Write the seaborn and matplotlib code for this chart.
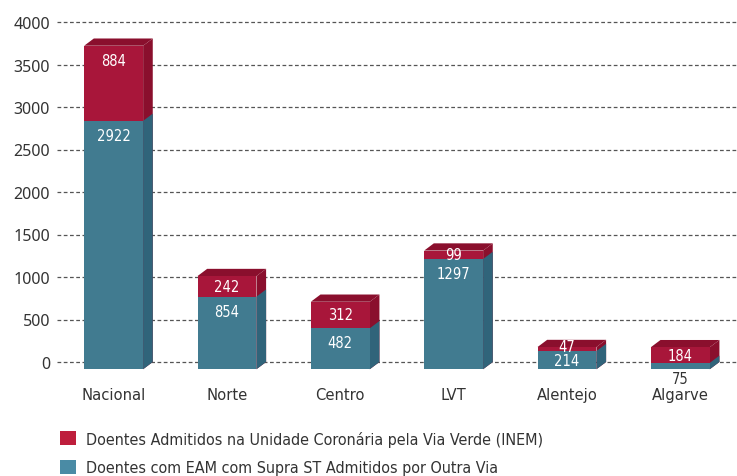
import numpy as np
import pandas as pd
import seaborn as sns
import matplotlib
matplotlib.use("Agg")
import matplotlib.pyplot as plt
from matplotlib.patches import Polygon, Patch
from matplotlib.transforms import Affine2D

# ---- data ----
regioes = ["Nacional", "Norte", "Centro", "LVT", "Alentejo", "Algarve"]
via_verde = [884, 242, 312, 99, 47, 184]
outra_via = [2922, 854, 482, 1297, 214, 75]
y_ticks = [0, 500, 1000, 1500, 2000, 2500, 3000, 3500, 4000]
legenda = ["Doentes Admitidos na Unidade Coronária pela Via Verde (INEM)",
           "Doentes com EAM com Supra ST Admitidos por Outra Via"]

# ---- style ----
RED = "#A8163A"
RED_DARK = "#8A0F2D"
TEAL = "#417B90"
TEAL_DARK = "#30647A"
RED_LEG = "#BE1E3C"
TEAL_LEG = "#4A8BA5"
TXT = "#333333"

sns.set_theme(style="white")
plt.rcParams["font.family"] = ["DejaVu Sans"]
plt.rcParams["font.stretch"] = "condensed"

fig = plt.figure(figsize=(7.37, 4.77), dpi=100)
ax = fig.add_axes([57 / 737, 1 - 363 / 477, 680 / 737, 340 / 477])

df = pd.DataFrame({
    "regiao": regioes,
    "total": np.add(via_verde, outra_via),
    "outra": outra_via,
})

W = 0.52
sns.barplot(data=df, x="regiao", y="total", color=RED, width=W,
            saturation=1, ax=ax, zorder=3)
sns.barplot(data=df, x="regiao", y="outra", color=TEAL, width=W,
            saturation=1, ax=ax, zorder=3)

ax.set_xlim(-0.5, 5.5)
ax.set_ylim(0, 4000)

# 3D depth (in data units)
OX = 0.085
OY = 85
shift = Affine2D().translate(0, -OY) + ax.transData

n = len(regioes)
red_p = ax.patches[:n]
teal_p = ax.patches[n:2 * n]

for group, side_col, top in ((red_p, RED_DARK, True), (teal_p, TEAL_DARK, False)):
    for p in group:
        p.set_transform(shift)
        p.set_clip_on(False)
        p.set_linewidth(0)
        x0 = p.get_x()
        x1 = x0 + p.get_width()
        y0 = p.get_y()
        y1 = y0 + p.get_height()
        side = Polygon([(x1, y0 - OY), (x1 + OX, y0), (x1 + OX, y1), (x1, y1 - OY)],
                       closed=True, facecolor=side_col, edgecolor="none",
                       zorder=2.9, clip_on=False)
        ax.add_patch(side)
        if top:
            tp = Polygon([(x0, y1 - OY), (x0 + OX, y1), (x1 + OX, y1), (x1, y1 - OY)],
                         closed=True, facecolor=side_col, edgecolor="none",
                         zorder=2.9, clip_on=False)
            ax.add_patch(tp)

# value labels: near the top of each segment
LBL_OFF = 170  # data units below segment top
def label_y(bottom, height):
    return bottom + height - min(height / 2, LBL_OFF) - OY

for i in range(n):
    o = outra_via[i]
    v = via_verde[i]
    if o >= 100:
        ax.text(i, label_y(0, o), str(o), ha="center", va="center", color="white",
                fontsize=10.5, zorder=5, clip_on=False)
    else:
        ax.text(i, -OY - 25, str(o), ha="center", va="top", color=TXT,
                fontsize=10.5, zorder=5, clip_on=False)
    ax.text(i, label_y(o, v) + (25 if v < 60 else 0), str(v), ha="center", va="center",
            color="white", fontsize=10.5, zorder=5, clip_on=False)

# axes styling
for s in ax.spines.values():
    s.set_visible(False)
ax.set_yticks(y_ticks)
ax.set_yticklabels([str(t) for t in y_ticks], fontfamily=["Noto Sans", "DejaVu Sans"],
                   fontstretch="normal", fontsize=11.5, color=TXT)
ax.yaxis.grid(True, linestyle=(0, (3, 2)), color="#555555", linewidth=0.9)
ax.xaxis.grid(False)
ax.set_axisbelow(True)
for gl in ax.get_ygridlines():
    gl.set_clip_on(False)
ax.tick_params(axis="y", length=0, pad=5)
ax.tick_params(axis="x", length=0, pad=18, labelsize=11.8, labelcolor=TXT)
ax.set_xlabel("")
ax.set_ylabel("")

handles = [Patch(facecolor=RED_LEG, edgecolor="none"),
           Patch(facecolor=TEAL_LEG, edgecolor="none")]
fig.legend(handles=handles, labels=legenda, loc="upper left",
           bbox_to_anchor=(55 / 737, 1 - 427 / 477), frameon=False,
           fontsize=11.5, handlelength=1.0, handleheight=1.0,
           handletextpad=0.65, labelspacing=0.8, labelcolor=TXT,
           borderaxespad=0, borderpad=0.3)

fig.savefig("out.png", dpi=100)
